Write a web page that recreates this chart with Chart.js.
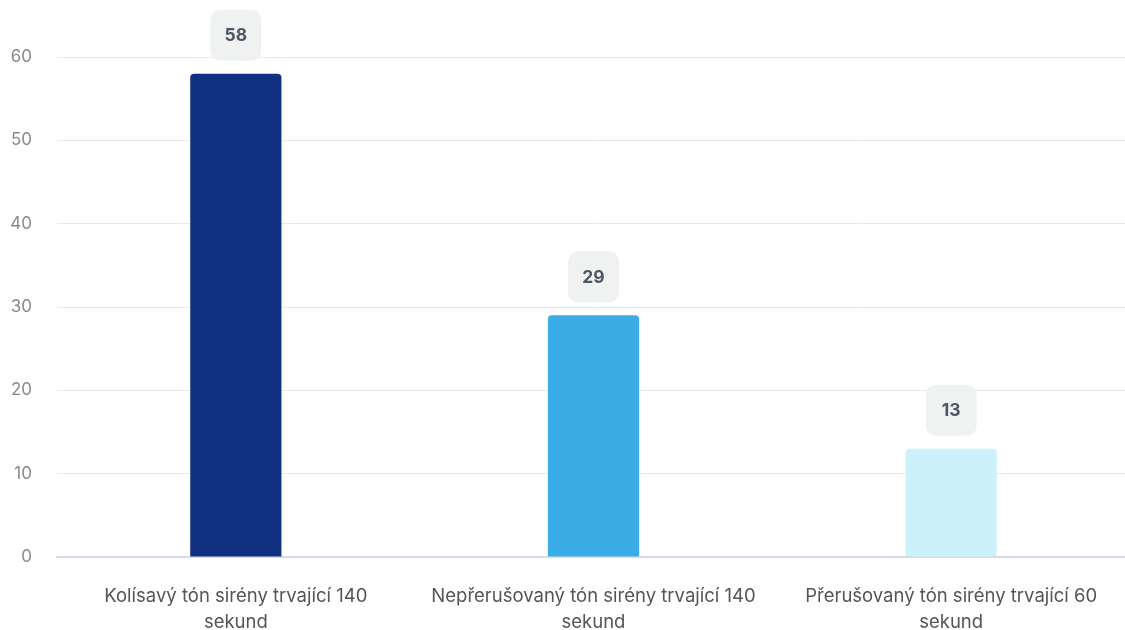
<!DOCTYPE html>
<html>
<head>
<meta charset="utf-8">
<script src="https://cdn.jsdelivr.net/npm/chart.js@4"></script>
<style>
  html, body { margin: 0; padding: 0; background: #fff; overflow: hidden; }
  #wrap { width: 1125px; height: 630px; overflow: hidden; }
  #c { display: block; }
</style>
</head>
<body>
<div id="wrap"><canvas id="c" width="1130" height="630"></canvas></div>
<script>
const categories = [
  ["Kolísavý tón sirény trvající 140", "sekund"],
  ["Nepřerušovaný tón sirény trvající 140", "sekund"],
  ["Přerušovaný tón sirény trvající 60", "sekund"]
];
const values = [58, 29, 13];
const barColors = ["#11307f", "#3aade6", "#cdf1fa"];
const yTicks = [0, 10, 20, 30, 40, 50, 60];

// Rounded badge with the value above each bar
const valueBadges = {
  id: "valueBadges",
  afterDatasetsDraw(chart) {
    const ctx = chart.ctx;
    const meta = chart.getDatasetMeta(0);
    ctx.save();
    meta.data.forEach((bar, i) => {
      const w = 51, h = 51, gap = 13;
      const x = bar.x - w / 2;
      const y = bar.y - gap - h;
      ctx.fillStyle = "#f0f2f2";
      ctx.beginPath();
      ctx.roundRect(x, y, w, h, 10);
      ctx.fill();
      ctx.fillStyle = "#4d5663";
      ctx.font = "bold 17.5px Inter";
      ctx.textAlign = "center";
      ctx.textBaseline = "middle";
      ctx.fillText(String(values[i]), bar.x, y + h / 2 + 1);
    });
    ctx.restore();
  }
};

new Chart(document.getElementById("c"), {
  type: "bar",
  data: {
    labels: categories,
    datasets: [{
      data: values,
      backgroundColor: barColors,
      borderRadius: { topLeft: 4, topRight: 4 },
      borderSkipped: "bottom",
      barPercentage: 0.51,
      categoryPercentage: 0.5
    }]
  },
  options: {
    responsive: false,
    animation: false,
    layout: { padding: { top: 57, left: 0, right: 0, bottom: 0 } },
    plugins: { legend: { display: false }, tooltip: { enabled: false } },
    scales: {
      x: {
        afterFit(axis) { axis.height = 73; axis.paddingLeft = 0; axis.paddingRight = 0; },
        grid: { display: false, drawTicks: false },
        border: { color: "#d5daea", width: 2 },
        ticks: {
          color: "#555555",
          font: { family: "Inter", size: 18.5, lineHeight: "26px" },
          padding: 26,
          maxRotation: 0,
          autoSkip: false
        }
      },
      y: {
        min: 0,
        max: 60,
        afterBuildTicks(axis) { axis.ticks = yTicks.map(v => ({ value: v })); },
        afterFit(axis) { axis.width = 57; },
        grid: { color: "#e9e9e9", drawTicks: false },
        border: { display: false },
        ticks: {
          color: "#8a8a8a",
          font: { family: "Inter", size: 17 },
          padding: 25
        }
      }
    }
  },
  plugins: [valueBadges]
});
</script>
</body>
</html>
